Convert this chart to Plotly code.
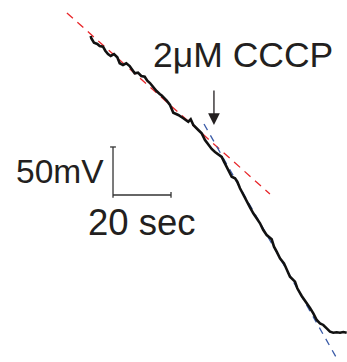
import plotly.graph_objects as go

# Membrane potential trace (time in s, potential change in mV)
time_s = [-0.1, 0.1, 1.03, 2.17, 3.0, 4.14, 4.93, 5.86, 6.79, 7.93, 9.07, 9.9, 11.03, 12.17,
          13.34, 14.14, 15.07, 16.21, 17.34, 18.52, 19.41, 20.34, 21.38, 22.59, 23.69, 24.38,
          26.1, 27.24, 28.38, 30.1, 31.83, 33.55, 34.38, 35.28, 37.0, 38.17, 39.31, 40.45,
          41.62, 42.76, 43.79, 45.07, 45.86, 46.79, 47.93, 48.52, 49.66, 50.45, 51.38, 52.52,
          53.69, 54.83, 55.97, 57.14, 58.28, 59.41, 60.59, 62.31, 63.1, 64.03, 65.17, 66.55,
          67.48, 68.62, 70.34, 71.14, 72.66, 73.21, 74.38, 75.52, 76.66, 77.83, 78.97, 80.1,
          81.28, 82.41, 83.55, 84.72, 85.86, 87.0, 88.17]
potential_mV = [0.0, -2.4, -7.0, -8.3, -10.4, -11.1, -15.3, -18.8, -20.8, -18.8, -22.2, -28.4,
                -30.2, -28.4, -31.3, -35.4, -38.9, -38.2, -41.7, -42.4, -46.6, -49.0, -53.1,
                -57.3, -60.4, -62.0, -67.4, -71.9, -79.9, -82.3, -85.7, -89.3, -86.8, -92.7,
                -97.9, -101.4, -108.3, -113.5, -117.7, -120.8, -122.9, -126.0, -130.9, -136.1,
                -143.0, -146.6, -148.2, -151.8, -158.6, -165.6, -172.6, -178.4, -184.7, -189.9,
                -195.1, -202.1, -207.3, -211.8, -219.5, -224.7, -231.6, -236.8, -243.8, -250.7,
                -255.9, -262.8, -270.8, -273.2, -277.1, -283.3, -288.9, -295.8, -299.3, -301.0,
                -304.5, -308.0, -309.1, -308.6, -309.1, -308.3, -309.1]

# Linear fits before / after CCCP
fit_before_t = [-8.3, 61.7]
fit_before_v = [24.0, -164.6]
fit_after_t = [38.97, 84.5]
fit_after_v = [-91.7, -334.4]

# Event and scale bars
cccp_time = 42.4
cccp_label = "2\u03bcM CCCP"
scale_time_s = 20
scale_mV = 50
scale_time_label = "20 sec"
scale_mV_label = "50mV"

FONT = "Liberation Sans, Arial, sans-serif"
TXT = "#231f20"

fig = go.Figure()
fig.add_trace(go.Scatter(x=fit_before_t, y=fit_before_v, mode="lines",
                         line=dict(color="#e8262a", width=1.3, dash="8px,6px"),
                         hoverinfo="skip"))
fig.add_trace(go.Scatter(x=fit_after_t, y=fit_after_v, mode="lines",
                         line=dict(color="#3b5ca8", width=1.3, dash="7px,6px"),
                         hoverinfo="skip"))
fig.add_trace(go.Scatter(x=time_s, y=potential_mV, mode="lines",
                         line=dict(color="#111111", width=2.6), hoverinfo="skip"))

# scale bar
sx0, sy0 = 7.59, -165.6  # corner of the scale bar
bar = dict(color="#333333", width=1.3)
fig.add_shape(type="line", x0=sx0, x1=sx0, y0=sy0 - 3, y1=sy0 + scale_mV, line=bar)
fig.add_shape(type="line", x0=sx0, x1=sx0 + scale_time_s, y0=sy0, y1=sy0, line=bar)
fig.add_shape(type="line", x0=sx0 - 1.0, x1=sx0 + 1.0, y0=sy0 + scale_mV, y1=sy0 + scale_mV, line=bar)
fig.add_shape(type="line", x0=sx0 + scale_time_s, x1=sx0 + scale_time_s, y0=sy0 - 3, y1=sy0 + 3, line=bar)

fig.add_annotation(x=sx0 - 2.5, y=sy0 + scale_mV / 2 - 1, text=scale_mV_label, showarrow=False,
                   xanchor="right", yanchor="middle", font=dict(family=FONT, size=33.5, color=TXT))
fig.add_annotation(x=sx0 + 10, y=-193.8, text=scale_time_label, showarrow=False,
                   xanchor="center", yanchor="middle", font=dict(family=FONT, size=36.5, color=TXT))

# CCCP arrow and label
fig.add_annotation(x=cccp_time, y=-92.7, ax=0, ay=-36, text="", showarrow=True,
                   arrowhead=2, arrowsize=1.8, arrowwidth=1.3, arrowcolor=TXT)
fig.add_annotation(x=52.4, y=-19.8, text=cccp_label, showarrow=False,
                   xanchor="center", yanchor="middle", font=dict(family=FONT, size=35.5, color=TXT))

fig.update_layout(width=347, height=362, margin=dict(l=0, r=0, t=0, b=0),
                  paper_bgcolor="white", plot_bgcolor="white", showlegend=False)
fig.update_xaxes(range=[-31.38, 88.28], visible=False)
fig.update_yaxes(range=[-339.58, 37.5], visible=False)

fig.write_html("out.html", config={"displayModeBar": False},
               post_script="document.body.style.margin='0';document.body.style.overflow='hidden';")
